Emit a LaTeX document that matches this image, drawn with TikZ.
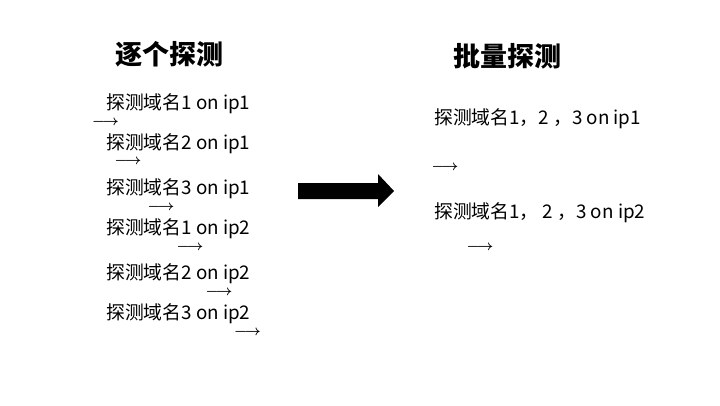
\documentclass[tikz,border=0pt]{standalone}
\usepackage{fontspec}
\setmainfont{Noto Sans CJK SC}
\begin{document}
\begin{tikzpicture}[x=1pt,y=-1pt,
  title/.style={font=\fontsize{27}{30}\selectfont\bfseries, inner sep=0pt, anchor=center},
  item/.style={font=\fontsize{18.8}{22}\selectfont, inner sep=0pt, anchor=west, text height=0.72em, text depth=0pt},
  sarrow/.style={font=\fontsize{14.5}{16}\selectfont\boldmath, inner sep=0pt, anchor=center}]
\useasboundingbox (0,0) rectangle (720,405);
\node[title] (t1) at (169,54) {逐个探测};
\node[title] (t2) at (507,56) {批量探测};
\node[item] (l1) at (106,106) {探测域名1 on ip1};
\node[item] (l2) at (106,146) {探测域名2 on ip1};
\node[item] (l3) at (106,191) {探测域名3 on ip1};
\node[item] (l4) at (106,231) {探测域名1 on ip2};
\node[item] (l5) at (106,276) {探测域名2 on ip2};
\node[item] (l6) at (106,316) {探测域名3 on ip2};
\node[sarrow] (a1) at (105.5,123) {$\longrightarrow$};
\node[sarrow] (a2) at (128,162) {$\longrightarrow$};
\node[sarrow] (a3) at (161,208) {$\longrightarrow$};
\node[sarrow] (a4) at (190,248) {$\longrightarrow$};
\node[sarrow] (a5) at (219,293) {$\longrightarrow$};
\node[sarrow] (a6) at (247.5,333) {$\longrightarrow$};
\node[item] (r1) at (434,121) {探测域名1，2 ，3 on ip1};
\node[item] (r2) at (434,215) {探测域名1， 2 ，3 on ip2};
\node[sarrow] (b1) at (445,168) {$\longrightarrow$};
\node[sarrow] (b2) at (480,248) {$\longrightarrow$};
\fill[black] (298,183) -- (378,183) -- (378,174) -- (394,191) -- (378,207) -- (378,199) -- (298,199) -- cycle;
\end{tikzpicture}
\end{document}
